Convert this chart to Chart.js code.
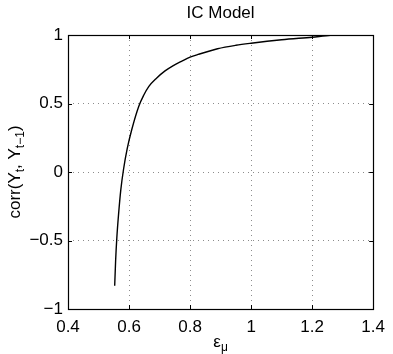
<!DOCTYPE html>
<html>
<head>
<meta charset="utf-8">
<script src="https://cdn.jsdelivr.net/npm/chart.js@4/dist/chart.umd.min.js"></script>
<style>
  body { margin: 0; background: #fff; }
  canvas { display: block; background: #fff; }
</style>
</head>
<body>
<canvas id="myChart" width="393" height="354"></canvas>
<script>
// values
var epsMu = [0.553, 0.556, 0.560, 0.566, 0.573, 0.582, 0.594, 0.609, 0.632, 0.648, 0.665, 0.690, 0.718, 0.745, 0.772, 0.800, 0.826, 0.890, 0.950, 1.0, 1.1, 1.2, 1.26, 1.3, 1.4];
var corrY = [-0.83, -0.65, -0.48, -0.30, -0.13, 0.02, 0.17, 0.31, 0.48, 0.56, 0.625, 0.685, 0.738, 0.777, 0.808, 0.838, 0.858, 0.900, 0.925, 0.94, 0.965, 0.984, 0.997, 1.0, 1.0];

var xTicks = [0.4, 0.6, 0.8, 1, 1.2, 1.4];
var yTicks = [-1, -0.5, 0, 0.5, 1];

var FONT = "'Liberation Sans', Arial, Helvetica, sans-serif";

var points = [];
for (var i = 0; i < epsMu.length; i++) {
  points.push({x: epsMu[i], y: corrY[i]});
}

// box, inward ticks, title and the axis labels with subscripts
var matlabBox = {
  id: 'matlabBox',
  afterDraw: function(chart) {
    var ctx = chart.ctx, a = chart.chartArea;
    var xs = chart.scales.x, ys = chart.scales.y;
    ctx.save();
    ctx.strokeStyle = '#000';
    ctx.lineWidth = 1;
    ctx.beginPath();
    xTicks.forEach(function(v) {
      var px = Math.round(xs.getPixelForValue(v)) + 0.5;
      ctx.moveTo(px, a.bottom); ctx.lineTo(px, a.bottom - 4);
      ctx.moveTo(px, a.top); ctx.lineTo(px, a.top + 4);
    });
    yTicks.forEach(function(v) {
      var py = Math.round(ys.getPixelForValue(v)) + 0.5;
      ctx.moveTo(a.left, py); ctx.lineTo(a.left + 4, py);
      ctx.moveTo(a.right, py); ctx.lineTo(a.right - 4, py);
    });
    ctx.stroke();
    ctx.lineWidth = 1.2;
    ctx.strokeRect(Math.round(a.left) + 0.5, Math.round(a.top) + 0.5,
      Math.round(a.right - a.left), Math.round(a.bottom - a.top));

    ctx.fillStyle = '#000';
    var big = '17px ' + FONT, small = '12px ' + FONT;
    var cx = (a.left + a.right) / 2;

    // title
    ctx.font = big;
    ctx.textAlign = 'center';
    ctx.textBaseline = 'middle';
    ctx.fillText('IC Model', cx, 13);

    // x label: eps_mu
    ctx.textBaseline = 'alphabetic';
    ctx.textAlign = 'left';
    ctx.font = big;
    var w1 = ctx.measureText('\u03b5').width;
    ctx.font = small;
    var w2 = ctx.measureText('\u03bc').width;
    var sx = cx - (w1 + w2) / 2;
    ctx.font = big;
    ctx.fillText('\u03b5', sx, 347);
    ctx.font = small;
    ctx.fillText('\u03bc', sx + w1, 351);

    // y label: corr(Y_t, Y_{t-1})
    var parts = [
      ['corr(Y', big, 0], ['t', small, 4], [', Y', big, 0], ['t\u22121', small, 4], [')', big, 0]
    ];
    var total = 0;
    parts.forEach(function(p) { ctx.font = p[1]; total += ctx.measureText(p[0]).width; });
    ctx.translate(20, (a.top + a.bottom) / 2);
    ctx.rotate(-Math.PI / 2);
    var pos = -total / 2;
    parts.forEach(function(p) {
      ctx.font = p[1];
      ctx.fillText(p[0], pos, p[2]);
      pos += ctx.measureText(p[0]).width;
    });
    ctx.restore();
  }
};

new Chart("myChart", {
  type: "line",
  data: {
    datasets: [{
      label: 'corr',
      data: points,
      borderColor: '#000',
      borderWidth: 1.4,
      pointRadius: 0,
      fill: false,
      cubicInterpolationMode: 'monotone'
    }]
  },
  options: {
    responsive: false,
    animation: false,
    layout: { padding: { left: 0, right: 15, top: 35, bottom: 0 } },
    plugins: {
      legend: { display: false },
      tooltip: { enabled: false },
      title: { display: false }
    },
    scales: {
      x: {
        type: 'linear',
        min: 0.4,
        max: 1.4,
        afterBuildTicks: function(s) { s.ticks = xTicks.map(function(v) { return {value: v}; }); },
        afterFit: function(s) { s.height = 45; },
        ticks: {
          color: '#000',
          padding: 8,
          maxRotation: 0,
          font: { family: FONT, size: 17 },
          callback: function(v) { return String(v); }
        },
        grid: { color: 'rgba(0,0,0,0.45)', drawTicks: false, lineWidth: 1 },
        border: { display: false, dash: [1, 4] }
      },
      y: {
        type: 'linear',
        min: -1,
        max: 1,
        afterBuildTicks: function(s) { s.ticks = yTicks.map(function(v) { return {value: v}; }); },
        afterFit: function(s) { s.width = 68; },
        ticks: {
          color: '#000',
          padding: 5,
          font: { family: FONT, size: 17 },
          callback: function(v) { return String(v).replace('-', '\u2212'); }
        },
        grid: { color: 'rgba(0,0,0,0.45)', drawTicks: false, lineWidth: 1 },
        border: { display: false, dash: [1, 4] }
      }
    }
  },
  plugins: [matlabBox]
});
</script>
</body>
</html>
